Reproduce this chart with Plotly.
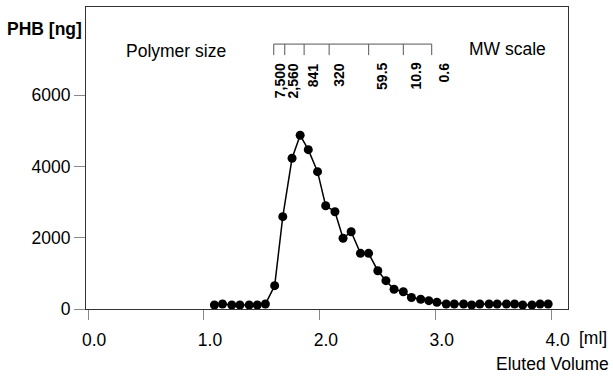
import plotly.graph_objects as go

# Eluted volume (ml) and PHB amount (ng)
volume_ml = [1.09, 1.16, 1.24, 1.31, 1.39, 1.46, 1.53, 1.61, 1.68, 1.76,
             1.83, 1.90, 1.98, 2.05, 2.13, 2.20, 2.27, 2.35, 2.42, 2.50,
             2.57, 2.64, 2.72, 2.79, 2.87, 2.94, 3.01, 3.09, 3.16, 3.24,
             3.31, 3.38, 3.46, 3.53, 3.61, 3.68, 3.75, 3.83, 3.90, 3.97]
phb_ng = [112, 140, 112, 112, 112, 112, 140, 654, 2589, 4227,
          4872, 4468, 3851, 2897, 2729, 1983, 2168, 1562, 1562, 1074,
          794, 553, 485, 322, 272, 233, 188, 140, 140, 140,
          112, 140, 140, 140, 140, 140, 112, 112, 140, 140]

x_tickvals = [0, 1, 2, 3, 4]
x_ticktext = ["0.0", "1.0", "2.0", "3.0", "4.0"]
y_tickvals = [0, 2000, 4000, 6000]
y_ticktext = ["0", "2000", "4000", "6000"]

# MW scale (polymer size markers)
mw_labels = ["7,500", "2,560", "841", "320", "59.5", "10.9", "0.6"]
mw_tick_ml = [1.602, 1.697, 1.864, 2.080, 2.421, 2.720, 2.965]
mw_label_ml = [1.650, 1.755, 1.931, 2.151, 2.527, 2.817, 3.054]

FONT = "Liberation Sans, Arial, Helvetica, sans-serif"

fig = go.Figure()
fig.add_trace(go.Scatter(
    x=volume_ml, y=phb_ng, mode="lines+markers",
    line=dict(color="black", width=1.5),
    marker=dict(color="black", size=9),
    showlegend=False, hoverinfo="skip"))

shapes = []
bar_top, bar_bot = 7430, 7120
shapes.append(dict(type="line", xref="x", yref="y",
                   x0=mw_tick_ml[0], x1=mw_tick_ml[-1], y0=bar_top, y1=bar_top,
                   line=dict(color="#555", width=1)))
for t in mw_tick_ml:
    shapes.append(dict(type="line", xref="x", yref="y",
                       x0=t, x1=t, y0=bar_top, y1=bar_bot,
                       line=dict(color="#555", width=1)))

annotations = []
for lab, lx in zip(mw_labels, mw_label_ml):
    annotations.append(dict(x=lx, y=6956, xref="x", yref="y", text=lab,
                            textangle=-90, showarrow=False, xanchor="center",
                            yanchor="top", xshift=1.5,
                            font=dict(family=FONT, size=14, color="black", weight="bold")))

annotations += [
    dict(x=-0.0851, y=0.9255, xref="paper", yref="paper", text="<b>PHB [ng]</b>",
         showarrow=False, xanchor="center", yanchor="middle",
         font=dict(family=FONT, size=17.5, color="black")),
    dict(x=0.1867, y=0.854, xref="paper", yref="paper", text="Polymer size",
         showarrow=False, xanchor="center", yanchor="middle",
         font=dict(family=FONT, size=17.5, color="black")),
    dict(x=0.8755, y=0.861, xref="paper", yref="paper", text="MW scale",
         showarrow=False, xanchor="center", yanchor="middle",
         font=dict(family=FONT, size=17.5, color="black")),
    dict(x=1.089, y=-0.182, xref="paper", yref="paper", text="Eluted Volume",
         showarrow=False, xanchor="right", yanchor="middle",
         font=dict(family=FONT, size=17.5, color="black")),
    dict(x=1.052, y=-0.096, xref="paper", yref="paper", text="[ml]",
         showarrow=False, xanchor="center", yanchor="middle",
         font=dict(family=FONT, size=17.5, color="black")),
]

fig.update_layout(
    width=613, height=378,
    margin=dict(l=86, r=45, t=7, b=69),
    paper_bgcolor="white", plot_bgcolor="white",
    font=dict(family=FONT, size=17.5, color="black"),
    shapes=shapes, annotations=annotations,
    xaxis=dict(range=[-0.018, 4.141], tickvals=x_tickvals, ticktext=x_ticktext,
               showgrid=False, zeroline=False, showline=True, mirror=True,
               linecolor="#333", linewidth=1.2, ticks="outside", ticklen=10,
               tickcolor="#888", tickwidth=1, ticklabelshift=6,
               ticklabelstandoff=5),
    yaxis=dict(range=[0, 8470], tickvals=y_tickvals, ticktext=y_ticktext,
               showgrid=False, zeroline=False, showline=True, mirror=True,
               linecolor="#333", linewidth=1.2, ticks="outside", ticklen=11,
               tickcolor="#888", tickwidth=1),
)

fig.write_html("out.html", config={"displayModeBar": False},
               post_script="document.body.style.margin='0';document.body.style.padding='0';")
